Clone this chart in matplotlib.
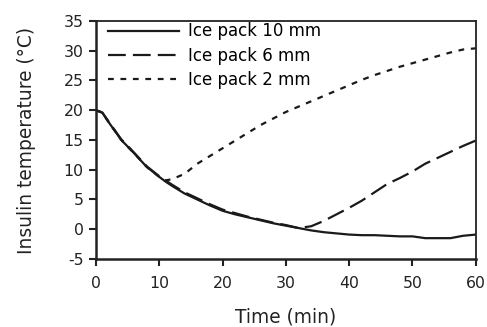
import matplotlib
matplotlib.use("Agg")
import matplotlib.pyplot as plt

time_min = [0, 1, 2, 4, 6, 8, 10, 11, 12, 14, 16, 18, 20, 22, 24, 26, 28, 30, 32, 34, 36, 38, 40,
            42, 44, 46, 48, 50, 52, 54, 56, 58, 60]
pack_10mm = [20.0, 19.6, 18.0, 15.0, 12.8, 10.5, 8.8, 8.0, 7.3, 6.0, 5.0, 4.0, 3.1, 2.5, 2.0, 1.5, 1.0,
             0.6, 0.2, -0.2, -0.5, -0.7, -0.9, -1.0, -1.0, -1.1, -1.2, -1.2, -1.5, -1.5, -1.5, -1.1, -0.9]
pack_6mm = [20.0, 19.6, 18.1, 15.1, 12.9, 10.6, 8.9, 8.2, 7.5, 6.2, 5.2, 4.2, 3.3, 2.7, 2.1, 1.6, 1.1,
            0.7, 0.2, 0.5, 1.4, 2.5, 3.6, 4.8, 6.2, 7.6, 8.6, 9.7, 11.0, 12.0, 13.0, 14.0, 14.9]
pack_2mm = [20.0, 19.6, 18.0, 15.0, 12.8, 10.5, 8.8, 8.2, 8.4, 9.3, 11.0, 12.3, 13.6, 14.9, 16.2, 17.5,
            18.6, 19.7, 20.6, 21.5, 22.4, 23.3, 24.2, 25.1, 25.9, 26.6, 27.3, 27.9, 28.5, 29.1, 29.7,
            30.2, 30.4]
labels = ["Ice pack 10 mm", "Ice pack 6 mm", "Ice pack 2 mm"]
x_ticks = [0, 10, 20, 30, 40, 50, 60]
y_ticks = [-5, 0, 5, 10, 15, 20, 25, 30, 35]

plt.rcParams['font.family'] = ['DejaVu Sans']
plt.rcParams['axes.unicode_minus'] = False
fig = plt.figure(figsize=(4.87, 3.27), dpi=100)
ax = fig.add_axes([0.197, 0.208, 0.780, 0.728])

c = '#1a1a1a'
ax.plot(time_min, pack_10mm, color=c, lw=1.6, linestyle='-', label=labels[0])
ax.plot(time_min, pack_6mm, color=c, lw=1.6, linestyle=(0, (8, 3.2)), label=labels[1])
ax.plot(time_min, pack_2mm, color=c, lw=1.6, linestyle=(0, (2.6, 3.0)), label=labels[2])

ax.set_xlim(0, 60)
ax.set_ylim(-5, 35)
ax.set_xticks(x_ticks)
ax.set_yticks(y_ticks)
ax.tick_params(direction='out', length=5, width=1.5, labelsize=11.3, colors='#222222')
ax.tick_params(axis='x', pad=7)
ax.tick_params(axis='y', pad=4)
for s in ['left', 'bottom']:
    ax.spines[s].set_linewidth(1.8)
for s in ['top', 'right']:
    ax.spines[s].set_linewidth(1.3)
for s in ax.spines.values():
    s.set_color('#222222')

ax.set_xlabel('Time (min)', fontsize=13.4, color='#222222', labelpad=12)
ax.set_ylabel('Insulin temperature (°C)', fontsize=13.4, color='#222222', labelpad=20)

leg = ax.legend(loc='upper left', frameon=False, fontsize=12, handlelength=4.3,
                handletextpad=0.55, labelspacing=0.38, borderaxespad=0.0,
                bbox_to_anchor=(0.013, 1.022))

fig.savefig('out.png', dpi=100)
